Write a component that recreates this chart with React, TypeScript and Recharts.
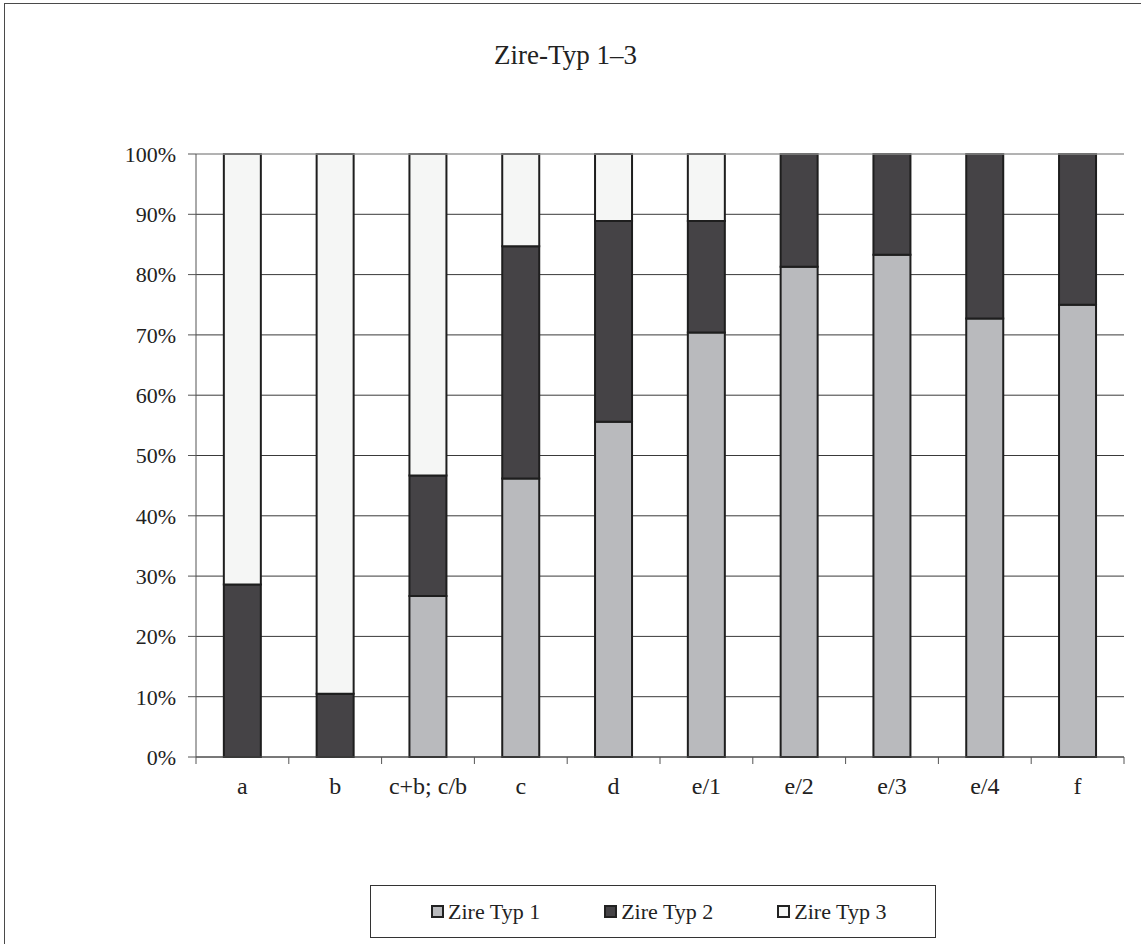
import React from 'react';
import { BarChart, Bar, XAxis, YAxis, CartesianGrid, ReferenceLine } from 'recharts';

const categories = ['a', 'b', 'c+b; c/b', 'c', 'd', 'e/1', 'e/2', 'e/3', 'e/4', 'f'];
const typ1 = [0, 0, 26.7, 46.2, 55.6, 70.4, 81.3, 83.3, 72.7, 75];
const typ2 = [28.6, 10.5, 20, 38.5, 33.3, 18.5, 18.7, 16.7, 27.3, 25];
const typ3 = [71.4, 89.5, 53.3, 15.3, 11.1, 11.1, 0, 0, 0, 0];
const yTicks = [0, 10, 20, 30, 40, 50, 60, 70, 80, 90, 100];

const seriesNames = ['Zire Typ 1', 'Zire Typ 2', 'Zire Typ 3'];
const seriesColors = ['#b9babd', '#454346', '#f5f6f5'];

const data = categories.map((name, i) => ({
  name,
  t1: typ1[i],
  t2: typ2[i],
  t3: typ3[i],
}));

const FONT = '"Liberation Serif", "Times New Roman", serif';
const TICK_GAP = 20;

function XTick(props: any) {
  const { x, y, payload, index, width } = props;
  const half = payload?.offset ?? width / categories.length / 2;
  const axisY = y - TICK_GAP;
  return (
    <g>
      <line x1={x - half} y1={axisY} x2={x - half} y2={axisY + 7} stroke="#555" />
      {index === categories.length - 1 && (
        <line x1={x + half} y1={axisY} x2={x + half} y2={axisY + 7} stroke="#555" />
      )}
      <text x={x} y={y} dy="0.71em" textAnchor="middle" fontSize={24} fontFamily={FONT} fill="#222">
        {payload.value}
      </text>
    </g>
  );
}

export default function App() {
  return (
    <div style={{ position: 'absolute', left: 0, top: 0, width: 1141, height: 944, overflow: 'hidden', background: '#fff' }}>
      <div style={{ position: 'absolute', left: 4, top: 3, width: 1160, height: 960, border: '1px solid #4a4a4a' }} />
      <div style={{ position: 'absolute', left: 0, top: 40, width: 1131, textAlign: 'center', fontFamily: FONT, fontSize: 27, color: '#222', lineHeight: 'normal' }}>
        Zire-Typ 1–3
      </div>
      <div style={{ position: 'absolute', left: 0, top: 0 }}>
        <BarChart
          width={1141}
          height={944}
          data={data}
          margin={{ top: 154, right: 17, bottom: 157, left: 136 }}
          barCategoryGap="30%"
        >
          <CartesianGrid vertical={false} stroke="#3a3a3a" yAxisId="left" />
          <ReferenceLine y={100} yAxisId="left" stroke="#c8c8c8" />
          <XAxis
            dataKey="name"
            height={30}
            tickLine={false}
            tickSize={0}
            tickMargin={TICK_GAP}
            axisLine={{ stroke: '#555' }}
            tick={<XTick />}
            interval={0}
          />
          <YAxis
            yAxisId="left"
            width={60}
            domain={[0, 100]}
            ticks={yTicks}
            tickFormatter={(v) => `${v}%`}
            tickSize={8}
            tickMargin={12}
            axisLine={{ stroke: '#555' }}
            tickLine={{ stroke: '#555' }}
            tick={{ fontSize: 22, fontFamily: FONT, fill: '#222' }}
            interval={0}
          />
          <YAxis
            yAxisId="right"
            orientation="right"
            width={0}
            domain={[0, 100]}
            tick={false}
            tickLine={false}
            axisLine={{ stroke: '#c8c8c8' }}
          />
          <Bar dataKey="t1" name={seriesNames[0]} stackId="s" yAxisId="left" fill={seriesColors[0]} stroke="#1e1e1e" strokeWidth={2} isAnimationActive={false} />
          <Bar dataKey="t2" name={seriesNames[1]} stackId="s" yAxisId="left" fill={seriesColors[1]} stroke="#1e1e1e" strokeWidth={2} isAnimationActive={false} />
          <Bar dataKey="t3" name={seriesNames[2]} stackId="s" yAxisId="left" fill={seriesColors[2]} stroke="#1e1e1e" strokeWidth={2} isAnimationActive={false} />
        </BarChart>
      </div>
      <div
        style={{
          position: 'absolute',
          left: 370,
          top: 885,
          width: 566,
          height: 53,
          boxSizing: 'border-box',
          border: '1px solid #333',
          display: 'flex',
          alignItems: 'center',
          justifyContent: 'flex-start',
          paddingLeft: 60,
          gap: 64,
          fontFamily: FONT,
          fontSize: 22,
          color: '#222',
        }}
      >
        {seriesNames.map((n, i) => (
          <div key={n} style={{ display: 'flex', alignItems: 'center' }}>
            <span style={{ display: 'inline-block', width: 9, height: 9, border: '2px solid #222', background: seriesColors[i], marginRight: 4 }} />
            <span>{n}</span>
          </div>
        ))}
      </div>
    </div>
  );
}
